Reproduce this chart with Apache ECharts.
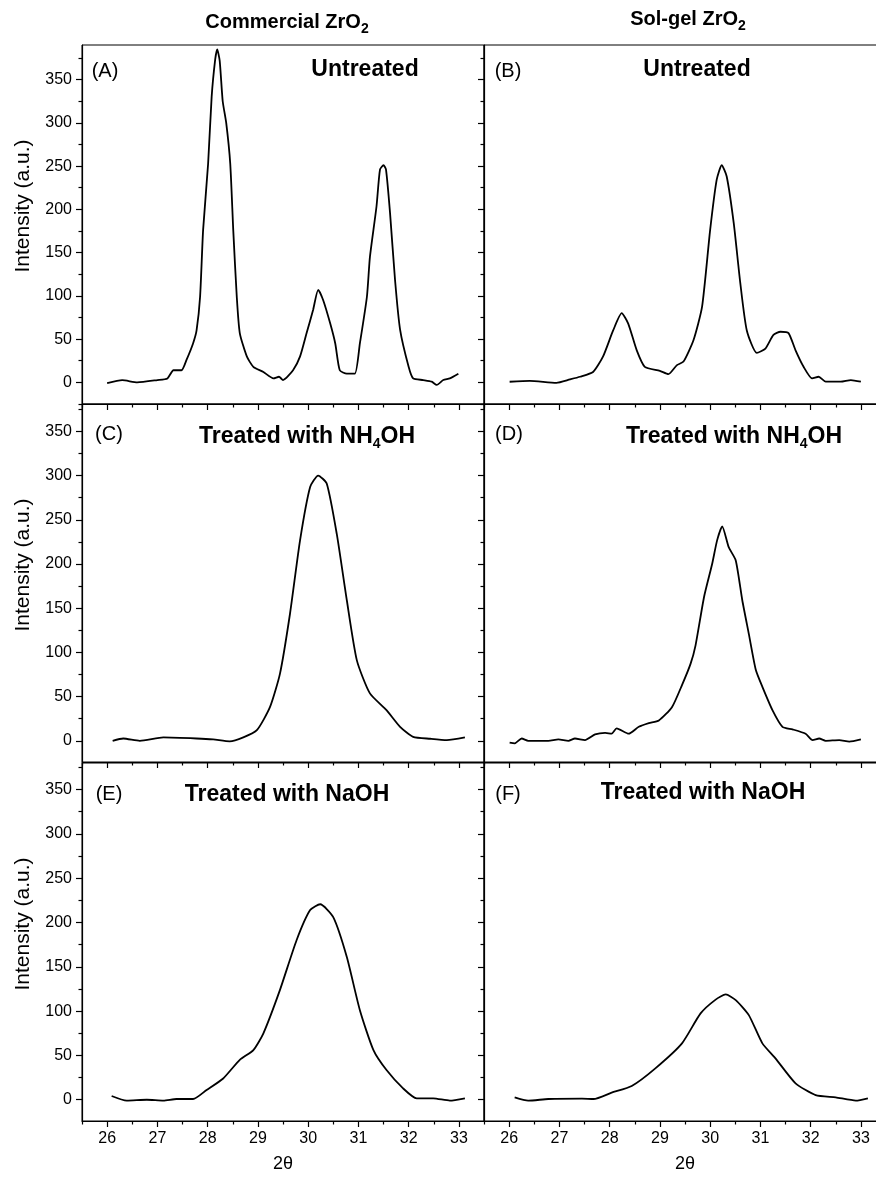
<!DOCTYPE html>
<html>
<head>
<meta charset="utf-8">
<script src="https://cdn.jsdelivr.net/npm/echarts@6/dist/echarts.min.js"></script>
<style>
  html, body { margin: 0; padding: 0; background: #fff; }
  #myChart { width: 876px; height: 1178px; }
</style>
</head>
<body>
<div id="myChart"></div>
<script>
// tick values
var xMajor = [26, 27, 28, 29, 30, 31, 32, 33];
var xMinor = [25.5, 26.5, 27.5, 28.5, 29.5, 30.5, 31.5, 32.5];
var yMajor = [0, 50, 100, 150, 200, 250, 300, 350];
var yMinor = [-25, 25, 75, 125, 175, 225, 275, 325, 375];

// [2theta, intensity]
var commUntreated = [[26.0,-1],[26.3,2.5],[26.6,0],[27.0,2.7],[27.2,4.6],[27.32,14],[27.48,14],[27.58,26],[27.71,45],[27.78,60],[27.85,99],[27.91,176],[28.01,253],[28.08,330],[28.15,373],[28.19,385],[28.24,372],[28.3,325],[28.37,300],[28.45,253],[28.51,176],[28.58,99],[28.64,57],[28.78,30],[28.91,18],[29.11,12],[29.31,4.6],[29.42,6.5],[29.5,2.7],[29.7,14],[29.84,30],[29.97,57],[30.1,84],[30.2,107],[30.3,95],[30.44,68],[30.54,45],[30.63,14],[30.77,10],[30.93,10],[31.03,45],[31.17,99],[31.23,145],[31.36,203],[31.43,246],[31.5,251],[31.55,246],[31.63,196],[31.73,118],[31.83,61],[32.0,18],[32.09,4.6],[32.29,2.7],[32.46,0.8],[32.56,-3],[32.69,2.7],[32.82,4.6],[32.99,10]];
var solUntreated = [[26.01,0.7],[26.41,1.8],[26.94,-0.5],[27.21,3.4],[27.41,6.5],[27.67,12],[27.87,30],[28.07,60],[28.24,80],[28.37,68],[28.54,37],[28.7,18],[29.0,13.4],[29.17,9.6],[29.34,20],[29.47,24],[29.67,49],[29.84,87.5],[30.0,176],[30.13,234],[30.23,251],[30.33,238],[30.47,184],[30.6,115],[30.73,60],[30.93,34],[31.1,39],[31.26,55],[31.4,58.5],[31.56,57],[31.7,37],[31.86,18],[32.03,4.6],[32.16,6.5],[32.3,0.8],[32.6,0.8],[32.8,2.7],[33.0,0.8]];
var commNH4OH = [[26.11,0],[26.32,2.6],[26.65,0],[27.12,3.8],[27.78,2.6],[28.11,1.5],[28.44,-0.7],[28.71,3.8],[28.98,12],[29.24,38],[29.44,76],[29.64,144],[29.84,227],[30.04,287],[30.2,300],[30.37,291],[30.57,234],[30.77,159],[30.97,91],[31.23,53.6],[31.56,34.7],[31.83,15.8],[32.09,4.5],[32.43,2.3],[32.76,0.8],[33.12,3.8]];
var solNH4OH = [[26.01,-2.2],[26.11,-3],[26.25,2.6],[26.38,0],[26.78,0],[26.98,1.5],[27.18,0],[27.31,2.6],[27.51,0.8],[27.71,7.2],[27.91,9],[28.04,8],[28.14,14],[28.38,8],[28.58,15.8],[28.78,20],[28.98,23],[29.24,38],[29.44,63],[29.61,87],[29.71,108],[29.88,163],[30.04,200],[30.14,227],[30.24,242.6],[30.37,219],[30.51,204],[30.64,159],[30.77,121],[30.91,80],[31.04,61],[31.24,34.7],[31.44,15.8],[31.64,12.9],[31.9,8],[32.04,0.8],[32.17,2.6],[32.3,0],[32.57,0.8],[32.77,-1],[33.0,1.5]];
var commNaOH = [[26.09,4.2],[26.39,-1],[26.79,0],[27.12,-1],[27.38,0.8],[27.71,0.8],[27.98,11],[28.31,24],[28.64,45],[28.91,56],[29.11,75],[29.44,124],[29.77,180],[30.04,214],[30.24,220.6],[30.5,206],[30.77,161],[31.03,101],[31.3,56],[31.56,33.5],[31.89,12.8],[32.16,1.6],[32.49,1.6],[32.82,-1],[33.12,1.6]];
var solNaOH = [[26.11,2.7],[26.38,-1],[26.78,0.8],[27.45,1.3],[27.68,0.8],[28.04,8],[28.44,15.5],[28.91,35.4],[29.44,63.6],[29.81,97.4],[30.11,113],[30.31,118.8],[30.51,112.4],[30.77,95.5],[31.04,63.6],[31.3,46.7],[31.7,18.5],[32.1,5.3],[32.5,2.7],[32.9,-1],[33.14,1.6]];

var panelData = [commUntreated, solUntreated, commNH4OH, solNH4OH, commNaOH, solNaOH];
var panelTags = ['(A)', '(B)', '(C)', '(D)', '(E)', '(F)'];

var FONT = '"Liberation Sans", Arial, sans-serif';
var rowTop = [45, 404, 763];
var rowH = [359, 358, 358];
var yMinRow = [-25, -24, -24];
var yMaxRow = [390, 381, 380];
var colLeft = [82, 484];

var grids = [], xAxes = [], yAxes = [], series = [];

panelData.forEach(function (d, i) {
  var r = Math.floor(i / 2), c = i % 2;
  var yMin = yMinRow[r], yMax = yMaxRow[r];
  grids.push({
    left: colLeft[c], top: rowTop[r], width: 402, height: rowH[r],
    outerBoundsMode: 'none', containLabel: false,
    show: true, borderColor: '#000', borderWidth: 1
  });
  // major x ticks + labels
  xAxes.push({
    gridIndex: i, type: 'value', position: 'bottom', min: 25.5, max: 33.5,
    axisLine: {show: true, onZero: false, lineStyle: {color: '#000', width: 1.2}},
    axisTick: {show: true, length: 6, customValues: xMajor, lineStyle: {color: '#000', width: 1.2}},
    axisLabel: {show: r === 2, customValues: xMajor, color: '#000', fontSize: 16, fontFamily: FONT, margin: 10},
    splitLine: {show: false},
    name: r === 2 ? '2θ' : '', nameLocation: 'middle', nameGap: 34,
    nameTextStyle: {color: '#000', fontSize: 18, fontFamily: FONT}
  });
  // minor x ticks
  xAxes.push({
    gridIndex: i, type: 'value', position: 'bottom', min: 25.5, max: 33.5,
    axisLine: {show: false, onZero: false},
    axisTick: {show: true, length: 3.5, customValues: xMinor, lineStyle: {color: '#000', width: 1.2}},
    axisLabel: {show: false}, splitLine: {show: false}
  });
  yAxes.push({
    gridIndex: i, type: 'value', position: 'left', min: yMin, max: yMax,
    axisLine: {show: true, onZero: false, lineStyle: {color: '#000', width: 1.2}},
    axisTick: {show: true, length: 6, customValues: yMajor, lineStyle: {color: '#000', width: 1.2}},
    axisLabel: {show: c === 0, customValues: yMajor, color: '#000', fontSize: 16, fontFamily: FONT, margin: 10},
    splitLine: {show: false}
  });
  yAxes.push({
    gridIndex: i, type: 'value', position: 'left', min: yMin, max: yMax,
    axisLine: {show: false, onZero: false},
    axisTick: {show: true, length: 3.5, customValues: yMinor.filter(function (v) { return v >= yMin && v <= yMax; }), lineStyle: {color: '#000', width: 1.2}},
    axisLabel: {show: false}, splitLine: {show: false}
  });
  series.push({
    type: 'line', xAxisIndex: 2 * i, yAxisIndex: 2 * i, data: d,
    showSymbol: false, smooth: 0.2, silent: true,
    lineStyle: {color: '#000', width: 1.8}
  });
});

var sub = {fontSize: 14, fontWeight: 'bold', fontFamily: FONT, padding: [15, 0, 0, 0]};
var big = {fontSize: 20, fontWeight: 'bold', fontFamily: FONT, lineHeight: 24};
var bigT = {fontSize: 23, fontWeight: 'bold', fontFamily: FONT, lineHeight: 26};

function txt(x, y, text, rich, rot) {
  return {
    type: 'text', x: x, y: y, rotation: rot || 0, silent: true,
    style: {text: text, rich: rich, fill: '#000', align: 'center', verticalAlign: 'middle'}
  };
}
var tagStyle = {t: {fontSize: 20, fontFamily: FONT, color: '#000'}};
var yNameStyle = {t: {fontSize: 21, fontFamily: FONT, color: '#000'}};
var headRich = {b: big, s: sub};
var panRich = {b: bigT, s: sub};

var graphics = [
  txt(287, 22, '{b|Commercial ZrO}{s|2}', headRich),
  txt(688, 19, '{b|Sol-gel ZrO}{s|2}', headRich),
  txt(365, 70, '{b|Untreated}', panRich),
  txt(697, 70, '{b|Untreated}', panRich),
  txt(307, 437, '{b|Treated with NH}{s|4}{b|OH}', panRich),
  txt(734, 437, '{b|Treated with NH}{s|4}{b|OH}', panRich),
  txt(287, 795, '{b|Treated with NaOH}', panRich),
  txt(703, 793, '{b|Treated with NaOH}', panRich)
];
var tagPos = [[105, 71], [508, 71], [109, 434], [509, 434], [109, 794], [508, 794]];
panelTags.forEach(function (t, i) {
  graphics.push(txt(tagPos[i][0], tagPos[i][1], '{t|' + t + '}', tagStyle));
});
// y-axis titles, sitting a little above each panel's centre
[206, 565, 924].forEach(function (cy) {
  graphics.push(txt(23, cy, '{t|Intensity (a.u.)}', yNameStyle, Math.PI / 2));
});

var myChart = echarts.init(document.getElementById('myChart'));
myChart.setOption({
  animation: false,
  backgroundColor: '#fff',
  grid: grids,
  xAxis: xAxes,
  yAxis: yAxes,
  series: series,
  graphic: graphics
});
</script>
</body>
</html>
